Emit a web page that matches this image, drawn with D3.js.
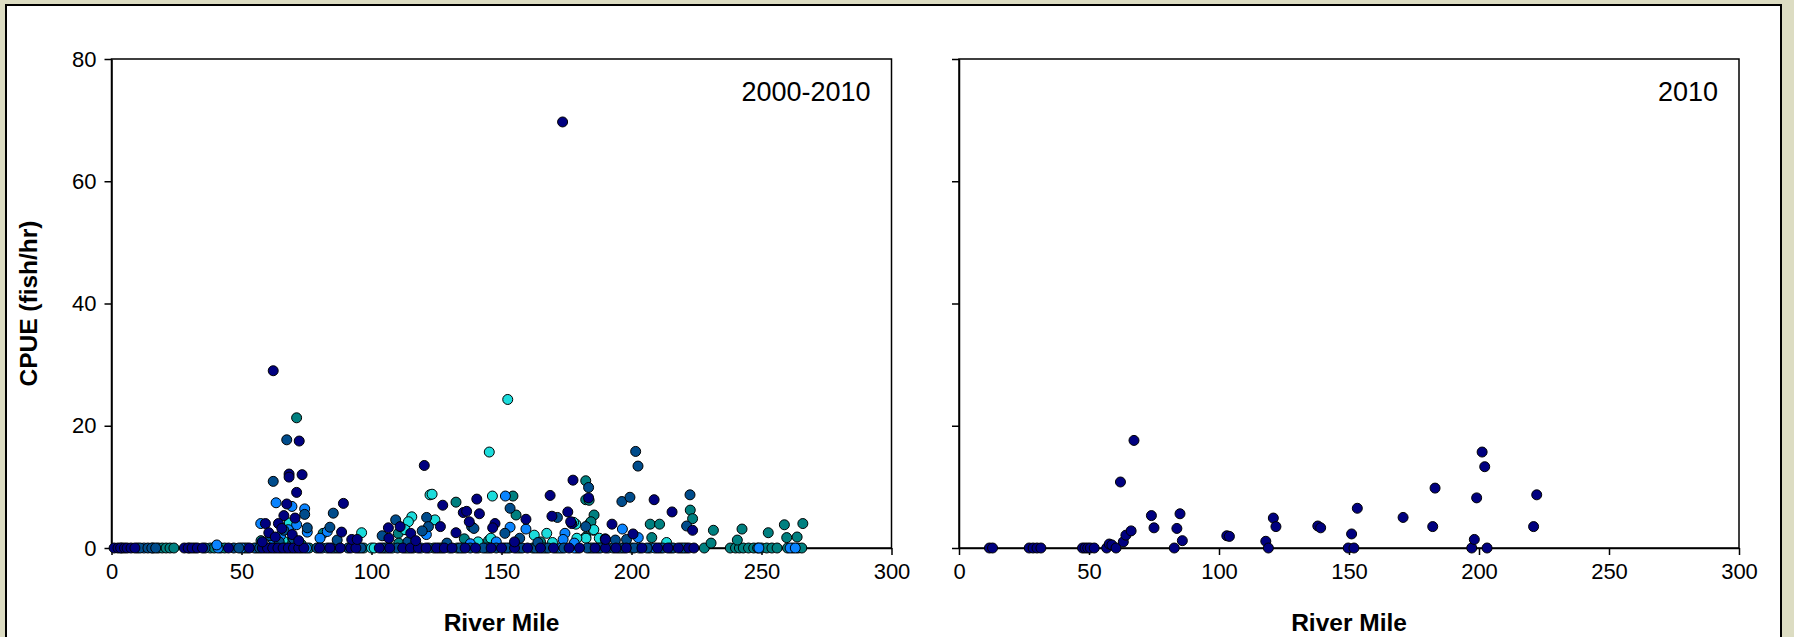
<!DOCTYPE html>
<html>
<head>
<meta charset="utf-8">
<script src="https://cdn.jsdelivr.net/npm/d3@7"></script>
<style>
  body { margin: 0; background: #dcdcc2; }
  svg { display: block; font-family: "Liberation Sans", Arial, sans-serif; }
</style>
</head>
<body>
<svg id="chart" width="1794" height="637"></svg>
<script>
// tick values
const xTicks = [0, 50, 100, 150, 200, 250, 300];
const yTicks = [0, 20, 40, 60, 80];

// 2000-2010 panel, one array per marker colour: [river mile, CPUE]
const navyPts = [
  [1,0],[2.5,0],[3.5,0],[5,0],[6,0],[7.5,0],[9,0],[28,0],[29.5,0],[31,0],[33,0],[35,0],[45,0],[53,0],[58,0],[60,0],
  [62,0],[64,0],[66,0],[68,0],[70,0],[72,0],[74,0],[80,0],[84,0],[88,0],[92,0],[94,0],[103,0],[107,0],[112,0],
  [115,0],[118,0],[121,0],[125,0],[128,0],[131,0],[136,0],[140,0],[146,0],[150,0],[155,0],[160,0],[165,0],[170,0],
  [176,0],[180,0],[186,0],[190,0],[194,0],[198,0],[204,0],[210,0],[214,0],[218,0],[222,0],[224,0],
  [62.2,29.0],[72.2,17.5],[68.3,12.1],[68.3,11.6],[73.3,12.0],[71.2,9.1],[67.4,7.2],[66.3,5.3],[70.6,4.9],
  [59.2,4.0],[64.2,4.0],[60.5,2.5],[63,1.8],[65.5,3.2],[69.5,2.2],[72,1.2],[58,1.0],[89.2,7.3],[88.5,2.6],
  [92.4,1.4],[94.5,1.4],[106.5,3.3],[115.1,2.4],[106.7,1.6],[120.3,13.5],[127.4,7.0],[140.5,8.0],[135.3,5.8],
  [136.6,6.0],[141.5,5.6],[137.6,4.3],[147.5,4.0],[146.6,3.3],[132.5,2.5],[126.5,3.5],[159.4,4.7],[168.7,8.6],
  [169.4,5.2],[175.5,5.9],[177.5,11.1],[183.5,8.2],[177,4.0],[192.5,3.9],[189.9,1.5],[208.7,7.9],[215.6,5.9],
  [223.5,2.9],[200.6,2.3],[190.0,1.4],[176.6,4.3],[173.5,69.7],[117,1.2],[111,3.5],[155,1.0]
];
const darkBluePts = [
  [4,0],[11,0],[14,0],[15.5,0],[17,0],[30,0],[32,0],[36,0],[47,0],[49,0],[55,0],[57,0],[61,0],[65,0],[69,0],
  [73,0],[79,0],[83,0],[87,0],[91,0],[96,0],[104,0],[110,0],[116,0],[122,0],[127,0],[134,0],[138,0],[143,0],
  [148,0],[152,0],[158,0],[163,0],[168,0],[174,0],[183,0],[188,0],[193,0],[197,0],[201,0],[206,0],[212,0],
  [216,0],[220,0],
  [67.4,17.7],[62.2,10.9],[74.3,5.5],[66.3,2.9],[75.3,3.3],[61,2.0],[64.5,1.0],[70,1.5],[85.3,5.7],[84.0,3.4],
  [86.8,1.3],[109.3,4.6],[104.1,2.0],[121.2,5.0],[121.9,3.5],[119.5,2.8],[138.5,3.5],[139.4,3.2],[153.3,6.5],
  [151.3,2.4],[157.0,1.6],[171.5,5.0],[183.5,9.9],[182.4,3.5],[196.3,7.6],[199.4,8.3],[201.6,15.8],[202.5,13.4],
  [222.5,8.7],[221.2,3.6],[193.8,1.3],[198.1,1.4],[114,1.0],[129,0.8],[164,0.9]
];
const tealPts = [
  [18,0],[19.5,0],[21,0],[22.5,0],[24,0],[38,0],[39.5,0],[42,0],[43.5,0],[51,0],[52,0],[56,0],[63,0],[71,0],
  [76,0],[86,0],[97,0],[105,0],[113,0],[124,0],[133,0],[141,0],[153,0],[162,0],[171,0],[184,0],[200,0],[207,0],
  [221,0],[228,0],[238,0],[240,0],[241.5,0],[243,0],[245,0],[247,0],[248.5,0],[250,0],[252,0],[254,0],[256,0],
  [260,0],[262,0],[264,0],[265.5,0],
  [71.2,21.3],[57.5,1.2],[68,0.9],[73,0.6],[81.4,2.4],[110.3,2.4],[110.5,0.8],[132.5,7.5],[154.4,8.5],[155.6,5.4],
  [135.7,1.5],[182.4,11.0],[182.4,7.9],[183.7,7.8],[185.6,5.4],[184.1,4.1],[182.4,1.8],[184.4,4.3],[207.2,3.9],
  [210.8,3.9],[207.8,1.7],[222.6,6.2],[223.5,4.8],[230.6,0.8],[231.5,2.9],[240.7,1.3],[242.5,3.1],[252.6,2.5],
  [258.8,3.8],[259.7,1.7],[263.7,1.8],[265.9,4.0],[145,1.2],[165,1.0]
];
const brightBluePts = [
  [10,0],[12.5,0],[16,0],[41,0],[50,0],[59,0],[67,0],[75,0],[81,0],[85,0],[95,0],[106,0],[119,0],[130,0],[145,0],
  [151,0],[156,0],[166,0],[173,0],[178,0],[185,0],[191,0],[196,0],[203,0],[209,0],[215,0],[219,0],[249,0],
  [261,0],[263,0],
  [63.3,7.4],[69.4,6.8],[74.3,6.4],[57.4,4.0],[71.2,3.8],[75.3,2.6],[65,2.0],[68,3.0],[62,1.5],[83.0,2.7],
  [80.2,1.6],[40.5,0.5],[121.1,2.2],[151.5,8.5],[153.3,3.4],[159.4,3.1],[174.4,2.4],[173.7,1.4],[196.5,3.1],
  [202.6,1.7],[178,0.8],[148,1.0],[138,0.7],[93,0.8]
];
const cyanPts = [
  [100,0],[101,0],[108,0],[114,0],[126,0],[135,0],[144,0],[157,0],[164,0],[167,0],[172,0],[179,0],[187,0],
  [195,0],[211,0],
  [68.4,4.1],[96.2,2.5],[115.5,5.1],[114.2,4.3],[112.9,3.0],[122.5,8.7],[123.3,8.8],[152.4,24.3],[145.3,15.7],
  [146.5,8.5],[124.4,4.6],[162.6,2.1],[145.9,1.6],[167.4,2.4],[178.6,3.9],[185.3,2.9],[185.5,3.0],[182.5,1.6],
  [187.6,1.6],[177.7,4.2],[169.6,0.9],[213.5,0.9],[179,1.6],[66,1.2],[141,1.0]
];

// 2010 panel
const pts2010 = [
  [11.7,0],[12.9,0],[27,0],[28.5,0],[30,0],[31.5,0],[47.5,0],[48.5,0],[49.5,0],[50.5,0],[52,0],[56.8,0],
  [57.8,0.65],[58.8,0.5],[60.4,0],[62.1,10.8],[63.2,1.0],[64.2,2.1],[66.2,2.8],[67.3,17.6],[74.0,5.3],[75.0,3.3],
  [82.8,0],[83.8,3.2],[85.0,5.6],[85.9,1.2],[103,2.0],[104,1.9],[118,1.1],[119,0],[120.9,4.9],[121.9,3.5],
  [138,3.6],[139.1,3.3],[149.7,0],[151.9,0],[151,2.3],[153.2,6.5],[170.8,5.0],[182.2,3.5],[183.1,9.8],
  [197.2,0],[198.2,1.4],[199.1,8.2],[201.2,15.7],[202.2,13.3],[203.1,0],[221,3.5],[222.2,8.7]
];

const panels = [
  {
    left: 111.5, right: 891.5, title: "2000-2010", yLabels: true,
    series: [
      { pts: tealPts, color: "#008080" },
      { pts: cyanPts, color: "#1cdcdc" },
      { pts: brightBluePts, color: "#0a84ff" },
      { pts: darkBluePts, color: "#004c8c" },
      { pts: navyPts, color: "#000080" }
    ]
  },
  {
    left: 959, right: 1739, title: "2010", yLabels: false,
    series: [{ pts: pts2010, color: "#000080" }]
  }
];

const plotTop = 59, plotBottom = 548;
const svg = d3.select("#chart");

svg.append("rect").attr("width", 1794).attr("height", 637).attr("fill", "#dcdcc2");
svg.append("rect")
  .attr("x", 6).attr("y", 5).attr("width", 1775).attr("height", 660)
  .attr("fill", "#fff").attr("stroke", "#000").attr("stroke-width", 2);

panels.forEach(p => {
  const x = d3.scaleLinear().domain([0, 300]).range([p.left, p.right]);
  const y = d3.scaleLinear().domain([0, 80]).range([plotBottom, plotTop]);
  const g = svg.append("g");

  // plot frame
  g.append("rect")
    .attr("x", p.left).attr("y", plotTop)
    .attr("width", p.right - p.left).attr("height", plotBottom - plotTop)
    .attr("fill", "none").attr("stroke", "#000").attr("stroke-width", 1.5);

  const xAxis = g.append("g")
    .attr("transform", `translate(0,${plotBottom})`)
    .call(d3.axisBottom(x).tickValues(xTicks).tickSize(7).tickSizeOuter(0).tickPadding(8));

  const yAxis = g.append("g")
    .attr("transform", `translate(${p.left},0)`)
    .call(d3.axisLeft(y).tickValues(yTicks).tickSize(7).tickSizeOuter(0).tickPadding(8)
      .tickFormat(p.yLabels ? d3.format("d") : ""));

  [xAxis, yAxis].forEach(a => {
    a.select(".domain").attr("stroke", "#000").attr("stroke-width", 1.5);
    a.selectAll(".tick line").attr("stroke", "#000").attr("stroke-width", 1.5);
    a.selectAll(".tick text").attr("fill", "#000").style("font-size", "22px")
      .style("font-family", "'Liberation Sans', Arial, sans-serif");
  });

  // markers
  p.series.forEach(s => {
    g.append("g").selectAll("circle")
      .data(s.pts)
      .enter()
      .append("circle")
      .attr("cx", d => x(d[0]))
      .attr("cy", d => y(d[1]))
      .attr("r", 5)
      .attr("fill", s.color)
      .attr("stroke", "#000")
      .attr("stroke-width", 1);
  });

  g.append("text")
    .attr("x", p.right - 21).attr("y", 101)
    .attr("text-anchor", "end")
    .style("font-size", "27px")
    .text(p.title);

  g.append("text")
    .attr("x", (p.left + p.right) / 2).attr("y", 631)
    .attr("text-anchor", "middle")
    .style("font-size", "24.5px").style("font-weight", "bold")
    .text("River Mile");
});

svg.append("text")
  .attr("transform", `translate(37,${(plotTop + plotBottom) / 2}) rotate(-90)`)
  .attr("text-anchor", "middle")
  .style("font-size", "24.5px").style("font-weight", "bold")
  .text("CPUE (fish/hr)");
</script>
</body>
</html>
